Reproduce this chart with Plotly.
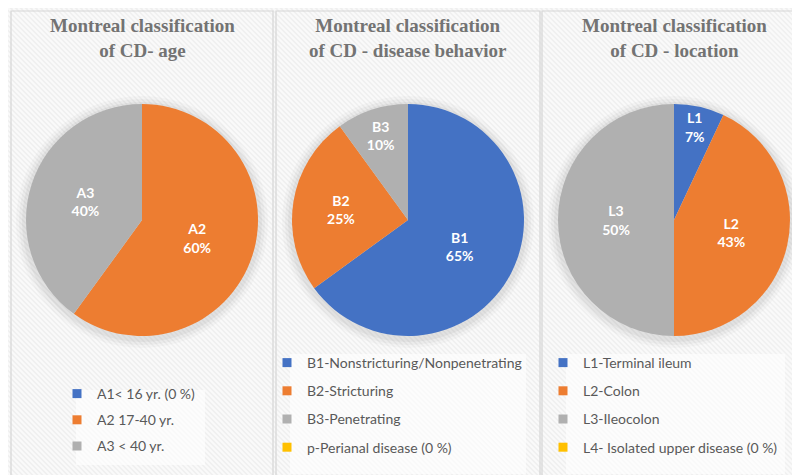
import plotly.graph_objects as go

W, H = 800, 475

# ---- data ----
titles = ["Montreal classification<br>of CD- age",
          "Montreal classification<br>of CD - disease behavior",
          "Montreal classification<br>of CD - location"]
age_labels = ["A1< 16 yr. (0 %)", "A2 17-40 yr.", "A3 < 40 yr."]
age_short = ["A1", "A2", "A3"]
age_values = [0, 60, 40]
beh_labels = ["B1-Nonstricturing/Nonpenetrating", "B2-Stricturing", "B3-Penetrating", "p-Perianal disease (0 %)"]
beh_short = ["B1", "B2", "B3", "p"]
beh_values = [65, 25, 10, 0]
loc_labels = ["L1-Terminal ileum", "L2-Colon", "L3-Ileocolon", "L4- Isolated upper disease (0 %)"]
loc_short = ["L1", "L2", "L3", "L4"]
loc_values = [7, 43, 50, 0]
colors = ["#4472C4", "#ED7D31", "#B0B0B0", "#FFC000"]


def fx(x):
    return x / W


def fy(y):
    return 1 - y / H


fig = go.Figure()
shapes = []

# background stripes
shapes.append(dict(type="rect", xref="paper", yref="paper", x0=0, x1=1, y0=0, y1=1,
                   fillcolor="#efefef", line=dict(width=0), layer="below"))
segs = []
step = 5
x = -H
while x < W + 10:
    segs.append(f"M{fx(x):.5f},{fy(0):.5f}L{fx(x + H):.5f},{fy(H):.5f}")
    x += step
shapes.append(dict(type="path", xref="paper", yref="paper", path="".join(segs),
                   line=dict(color="#fafafa", width=2), layer="below"))

panels = [(3, 265), (268, 532), (534, 797)]
for (a, b) in panels:
    shapes.append(dict(type="rect", xref="paper", yref="paper", x0=fx(a), x1=fx(b), y0=fy(472), y1=fy(3),
                       line=dict(color="#d6d6d6", width=1.2), fillcolor="rgba(0,0,0,0)", layer="below"))

centers = [134, 400, 666]
cy = 212
r = 116
datasets = [(age_labels, age_short, age_values), (beh_labels, beh_short, beh_values),
            (loc_labels, loc_short, loc_values)]

for i, (cx, (labs, shorts, vals)) in enumerate(zip(centers, datasets)):
    # soft shadow
    for k, op in [(10, 0.025), (7, 0.03), (4, 0.04)]:
        shapes.append(dict(type="circle", xref="paper", yref="paper",
                           x0=fx(cx - r - k), x1=fx(cx + r + k), y0=fy(cy + r + k + 2), y1=fy(cy - r - k + 2),
                           fillcolor=f"rgba(0,0,0,{op})", line=dict(width=0), layer="below"))
    tmpl = ["" if v == 0 else "%{text}<br>%{percent}" for v in vals]
    fig.add_trace(go.Pie(
        labels=labs, values=vals, text=shorts, texttemplate=tmpl,
        textinfo="text", textposition="inside", insidetextorientation="horizontal",
        sort=False, direction="clockwise", rotation=0,
        marker=dict(colors=colors[:len(vals)], line=dict(width=0)),
        textfont=dict(family="Lato", size=14, color="white", weight="bold"),
        hoverinfo="label+percent",
        domain=dict(x=[fx(cx - r), fx(cx + r)], y=[fy(cy + r), fy(cy - r)]),
        showlegend=False,
    ))
    fig.add_annotation(x=fx(cx), y=fy(5), xref="paper", yref="paper", xanchor="center", yanchor="top",
                       text=f"<b>{titles[i]}</b>", showarrow=False,
                       font=dict(family="Liberation Serif", size=19, color="#737373"))
    lg = "legend" if i == 0 else f"legend{i + 1}"
    for j, (lab, col) in enumerate(zip(labs, colors)):
        fig.add_trace(go.Scatter(x=[None], y=[None], mode="markers", name=lab,
                                 marker=dict(symbol="square", size=9, color=col),
                                 legend=lg, legendgroup=f"g{i}_{j}", showlegend=True,
                                 xaxis="x", yaxis="y", hoverinfo="skip"))

# legend boxes
for (a, b, t, bt) in [(68, 197, 382, 457), (282, 518, 346, 466), (558, 777, 346, 466)]:
    shapes.append(dict(type="rect", xref="paper", yref="paper", x0=fx(a), x1=fx(b), y0=fy(bt), y1=fy(t),
                       fillcolor="rgba(255,255,255,0.6)", line=dict(width=0), layer="below"))

legfont = dict(family="Lato", size=14, color="#595959")
common = dict(bgcolor="rgba(0,0,0,0)", font=legfont, xanchor="left", yanchor="top",
              itemclick=False, itemdoubleclick=False)
fig.update_layout(
    width=W, height=H,
    margin=dict(l=0, r=0, t=0, b=0),
    paper_bgcolor="#efefef", plot_bgcolor="rgba(0,0,0,0)",
    shapes=shapes,
    xaxis=dict(visible=False, domain=[0, 0.001]),
    yaxis=dict(visible=False, domain=[0, 0.001]),
    legend=dict(x=fx(49), y=fy(370), tracegroupgap=5, **common),
    legend2=dict(x=fx(259), y=fy(339), tracegroupgap=7, **common),
    legend3=dict(x=fx(535), y=fy(339), tracegroupgap=7, **common),
)

fig.write_html("out.html")
